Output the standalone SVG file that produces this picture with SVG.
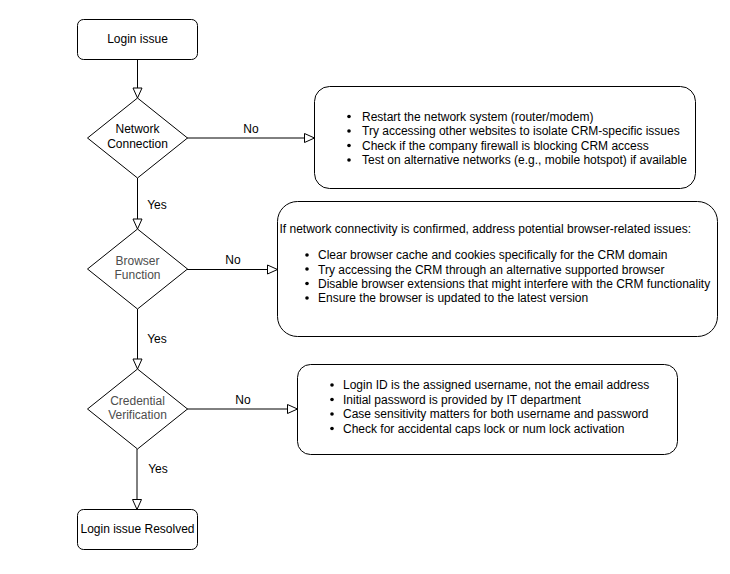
<svg xmlns="http://www.w3.org/2000/svg" width="730" height="574" viewBox="0 0 730 574">
<style>
text{font-family:"Liberation Sans",Arial,Helvetica,sans-serif;font-size:12px;fill:#000}
.c{text-anchor:middle}
.g{fill:#4d4d4d}
.box{fill:#fff;stroke:#000;stroke-width:1}
.edge{fill:none;stroke:#000;stroke-width:1;marker-end:url(#arr)}
.dot{fill:#000}
</style>
<defs>
<marker id="arr" markerUnits="userSpaceOnUse" markerWidth="12" markerHeight="12" viewBox="-1 -1 12 11" refX="10" refY="4.5" orient="auto">
<path d="M0,0 L10,4.5 L0,9 Z" fill="#fff" stroke="#000" stroke-width="1"/>
</marker>
</defs>
<rect width="730" height="574" fill="#fff"/>
<g id="connectors">
<path class="edge" d="M137.5,59.5 V98"/>
<path class="edge" d="M187,138 H314.5"/>
<path class="edge" d="M137.5,178 V229"/>
<path class="edge" d="M187,269.5 H277.5"/>
<path class="edge" d="M137.5,309 V369"/>
<path class="edge" d="M187,409 H297.5"/>
<path class="edge" d="M137,449 V509.5"/>
<text class="c" x="251" y="132.5">No</text>
<text class="c" x="157" y="208.5">Yes</text>
<text class="c" x="233" y="263.5">No</text>
<text class="c" x="157" y="343">Yes</text>
<text class="c" x="243" y="403.5">No</text>
<text class="c" x="158" y="473">Yes</text>
</g>
<g id="login-issue">
<rect class="box" x="77.5" y="19.5" width="120" height="40" rx="6"/>
<text class="c" x="137.5" y="42.5">Login issue</text>
</g>
<g id="network-connection">
<polygon class="box" points="137.5,98 187.5,138 137.5,178 87.5,138"/>
<text class="c" x="137.5" y="132.5">Network</text>
<text class="c" x="137.5" y="147.5">Connection</text>
</g>
<g id="browser-function">
<polygon class="box" points="137.5,229 187.5,269 137.5,309 87.5,269"/>
<text class="c g" x="137.5" y="264.5">Browser</text>
<text class="c g" x="137.5" y="278.5">Function</text>
</g>
<g id="credential-verification">
<polygon class="box" points="137.5,369 187.5,409 137.5,449 87.5,409"/>
<text class="c g" x="137.5" y="405">Credential</text>
<text class="c g" x="137.5" y="418.5">Verification</text>
</g>
<g id="login-resolved">
<rect class="box" x="77.5" y="509.5" width="120" height="40" rx="6"/>
<text class="c" x="137.5" y="533">Login issue Resolved</text>
</g>
<g id="network-tips">
<rect class="box" x="314.5" y="86.5" width="381" height="102" rx="15"/>
<circle class="dot" cx="349" cy="116.5" r="1.8"/>
<circle class="dot" cx="349" cy="131" r="1.8"/>
<circle class="dot" cx="349" cy="145.5" r="1.8"/>
<circle class="dot" cx="349" cy="160" r="1.8"/>
<text x="362" y="120.5">Restart the network system (router/modem)</text>
<text x="362" y="135">Try accessing other websites to isolate CRM-specific issues</text>
<text x="362" y="149.5">Check if the company firewall is blocking CRM access</text>
<text x="362" y="164">Test on alternative networks (e.g., mobile hotspot) if available</text>
</g>
<g id="browser-tips">
<rect class="box" x="277.5" y="201.5" width="440" height="135" rx="20"/>
<text x="279.5" y="233">If network connectivity is confirmed, address potential browser-related issues:</text>
<circle class="dot" cx="307" cy="255" r="1.8"/>
<circle class="dot" cx="307" cy="269" r="1.8"/>
<circle class="dot" cx="307" cy="283.5" r="1.8"/>
<circle class="dot" cx="307" cy="298" r="1.8"/>
<text x="318" y="259">Clear browser cache and cookies specifically for the CRM domain</text>
<text x="318" y="273.5">Try accessing the CRM through an alternative supported browser</text>
<text x="318" y="288">Disable browser extensions that might interfere with the CRM functionality</text>
<text x="318" y="302">Ensure the browser is updated to the latest version</text>
</g>
<g id="credential-tips">
<rect class="box" x="297.5" y="364.5" width="380" height="90" rx="13"/>
<circle class="dot" cx="332" cy="385" r="1.8"/>
<circle class="dot" cx="332" cy="399.5" r="1.8"/>
<circle class="dot" cx="332" cy="414" r="1.8"/>
<circle class="dot" cx="332" cy="428.5" r="1.8"/>
<text x="343" y="389">Login ID is the assigned username, not the email address</text>
<text x="343" y="403.5">Initial password is provided by IT department</text>
<text x="343" y="418">Case sensitivity matters for both username and password</text>
<text x="343" y="432.5">Check for accidental caps lock or num lock activation</text>
</g>
</svg>
